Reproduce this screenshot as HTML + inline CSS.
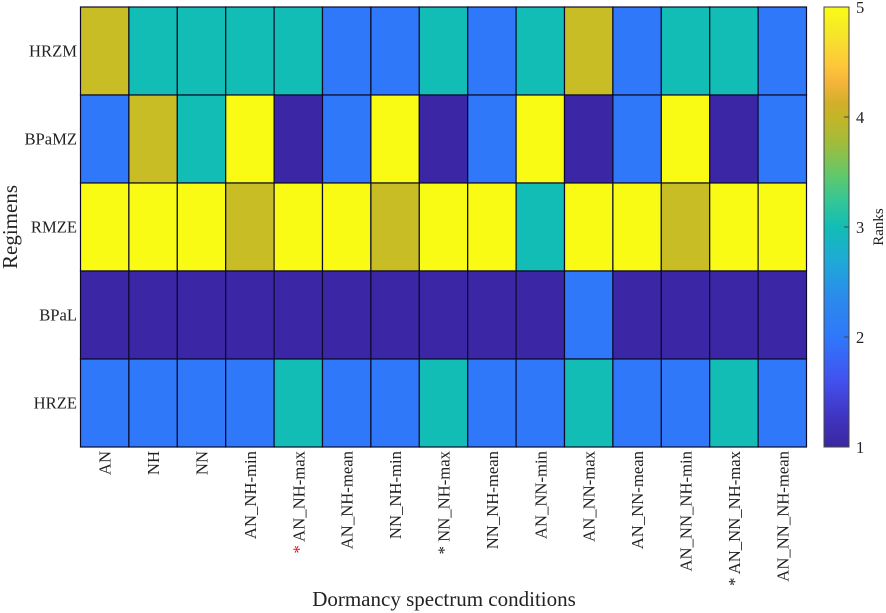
<!DOCTYPE html>
<html>
<head>
<meta charset="utf-8">
<style>
html,body{margin:0;padding:0;background:#fff;width:886px;height:613px;overflow:hidden}
svg{display:block}
text{font-family:"Liberation Serif",serif;fill:#222}
</style>
</head>
<body>
<svg id="chart" width="886" height="613" viewBox="0 0 886 613" xmlns="http://www.w3.org/2000/svg">
  <defs>
    <linearGradient id="cbGrad" x1="0" y1="0" x2="0" y2="1">
      <stop offset="0" stop-color="#f9fb15"/>
      <stop offset="0.06" stop-color="#f6e62a"/>
      <stop offset="0.13" stop-color="#fdc83a"/>
      <stop offset="0.17" stop-color="#f6b53a"/>
      <stop offset="0.22" stop-color="#d2ae2c"/>
      <stop offset="0.25" stop-color="#c5b527"/>
      <stop offset="0.31" stop-color="#a0bc3c"/>
      <stop offset="0.38" stop-color="#62c869"/>
      <stop offset="0.44" stop-color="#35c696"/>
      <stop offset="0.5" stop-color="#12bdb5"/>
      <stop offset="0.58" stop-color="#1fa9d8"/>
      <stop offset="0.66" stop-color="#2b8aec"/>
      <stop offset="0.75" stop-color="#2f78fa"/>
      <stop offset="0.85" stop-color="#4251ee"/>
      <stop offset="0.93" stop-color="#4035c2"/>
      <stop offset="1" stop-color="#3b27a0"/>
    </linearGradient>
  </defs>
  <g id="cells"></g>
  <g id="xlabels"></g>
  <g id="ylabels"></g>
  <text x="444" y="606" font-size="21" text-anchor="middle">Dormancy spectrum conditions</text>
  <text transform="translate(17,227) rotate(-90)" font-size="21" text-anchor="middle">Regimens</text>
  <rect x="824" y="7" width="25" height="440" fill="url(#cbGrad)" stroke="#444" stroke-width="1"/>
  <g id="cbticks"></g>
  <text transform="translate(883,227) rotate(-90)" font-size="15" text-anchor="middle">Ranks</text>
</svg>
<script>
const regimens = ["HRZM", "BPaMZ", "RMZE", "BPaL", "HRZE"];
const conditions = ["AN", "NH", "NN", "AN_NH-min", "AN_NH-max", "AN_NH-mean", "NN_NH-min", "NN_NH-max", "NN_NH-mean", "AN_NN-min", "AN_NN-max", "AN_NN-mean", "AN_NN_NH-min", "AN_NN_NH-max", "AN_NN_NH-mean"];
const ranksHRZM = [4, 3, 3, 3, 3, 2, 2, 3, 2, 3, 4, 2, 3, 3, 2];
const ranksBPaMZ = [2, 4, 3, 5, 1, 2, 5, 1, 2, 5, 1, 2, 5, 1, 2];
const ranksRMZE = [5, 5, 5, 4, 5, 5, 4, 5, 5, 3, 5, 5, 4, 5, 5];
const ranksBPaL = [1, 1, 1, 1, 1, 1, 1, 1, 1, 1, 2, 1, 1, 1, 1];
const ranksHRZE = [2, 2, 2, 2, 3, 2, 2, 3, 2, 2, 3, 2, 2, 3, 2];
const rankRows = [ranksHRZM, ranksBPaMZ, ranksRMZE, ranksBPaL, ranksHRZE];
const starredBlack = ["NN_NH-max", "AN_NN_NH-max"];
const starredRed = ["AN_NH-max"];
const colorTicks = [1, 2, 3, 4, 5];

const NS = "http://www.w3.org/2000/svg";
const plotLeft = 80.5, plotRight = 806.5, plotTop = 7, plotBottom = 447;
const cbTop = 7, cbBottom = 447, cbRight = 849;
const xBand = i => plotLeft + i * (plotRight - plotLeft) / conditions.length;
const yBand = j => plotTop + j * (plotBottom - plotTop) / regimens.length;
const cbY = v => cbBottom - (v - 1) / 4 * (cbBottom - cbTop);
function rankColor(v) {
  const palette = ["#3b27a6", "#2f78fa", "#12bdb5", "#c8bd25", "#f9fb15"];
  return palette[Math.max(0, Math.min(4, Math.round(v) - 1))];
}
const cells = document.getElementById("cells");
const xl = document.getElementById("xlabels");
const yl = document.getElementById("ylabels");
const cbt = document.getElementById("cbticks");

rankRows.forEach((row, j) => {
  row.forEach((v, i) => {
    const r = document.createElementNS(NS, "rect");
    
    
    r.setAttribute("x", xBand(i));
    r.setAttribute("y", yBand(j));
    r.setAttribute("width", xBand(i + 1) - xBand(i));
    r.setAttribute("height", yBand(j + 1) - yBand(j));
    r.setAttribute("fill", rankColor(v));
    r.setAttribute("stroke", "#0a0a28");
    r.setAttribute("stroke-width", "1.2");
    cells.appendChild(r);
  });
});

regimens.forEach((name, j) => {
  const t = document.createElementNS(NS, "text");
  
  
  t.setAttribute("x", 77);
  t.setAttribute("y", (yBand(j) + yBand(j + 1)) / 2 + 5.5);
  t.setAttribute("font-size", "16.6");
  t.setAttribute("text-anchor", "end");
  t.textContent = name;
  yl.appendChild(t);
});

conditions.forEach((name, i) => {
  const cx = (xBand(i) + xBand(i + 1)) / 2;
  const t = document.createElementNS(NS, "text");
  
  
  t.setAttribute("transform", "translate(" + (cx + 6) + ",451) rotate(-90)");
  t.setAttribute("font-size", "16.7");
  t.setAttribute("text-anchor", "end");
  if (starredBlack.includes(name) || starredRed.includes(name)) {
    const s = document.createElementNS(NS, "tspan");
    
    
    if (starredRed.includes(name)) s.setAttribute("style", "fill:#e8102a");
    s.textContent = "* ";
    t.appendChild(s);
  }
  t.appendChild(document.createTextNode(name));
  xl.appendChild(t);
});

colorTicks.forEach(v => {
  const y = cbY(v);
  const l = document.createElementNS(NS, "line");
  
  
  l.setAttribute("x1", cbRight - 5);
  l.setAttribute("x2", cbRight);
  l.setAttribute("y1", y);
  l.setAttribute("y2", y);
  l.setAttribute("stroke", "#444");
  l.setAttribute("stroke-width", "1");
  cbt.appendChild(l);
  const t = document.createElementNS(NS, "text");
  
  
  t.setAttribute("x", 856);
  t.setAttribute("y", y + 6);
  t.setAttribute("font-size", "16.5");
  t.textContent = v;
  cbt.appendChild(t);
});
</script>
</body>
</html>
